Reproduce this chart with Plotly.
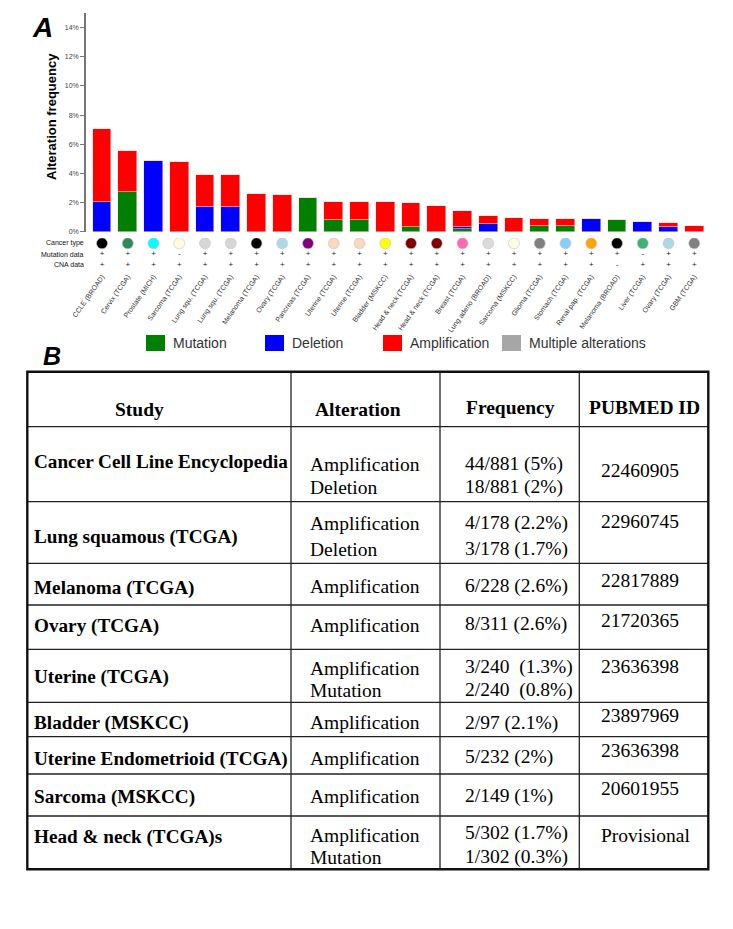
import plotly.graph_objects as go

# ---------------- data ----------------
studies = ["CCLE (BROAD)", "Cervix (TCGA)", "Prostate (MICH)", "Sarcoma (TCGA)", "Lung squ. (TCGA)",
           "Lung squ. (TCGA)", "Melanoma (TCGA)", "Ovary (TCGA)", "Pancreas (TCGA)", "Uterine (TCGA)",
           "Uterine (TCGA)", "Bladder (MSKCC)", "Head & neck (TCGA)", "Head & neck (TCGA)", "Breast (TCGA)",
           "Lung adeno (BROAD)", "Sarcoma (MSKCC)", "Glioma (TCGA)", "Stomach (TCGA)", "Renal pap. (TCGA)",
           "Melanoma (BROAD)", "Liver (TCGA)", "Ovary (TCGA)", "GBM (TCGA)"]
mutation = [0, 2.75, 0, 0, 0, 0, 0, 0, 2.33, 0.82, 0.82, 0, 0.33, 0, 0.16, 0, 0, 0.41, 0.41, 0, 0.80, 0, 0, 0]
deletion = [2.02, 0, 4.85, 0, 1.67, 1.67, 0, 0, 0, 0, 0, 0, 0, 0, 0.18, 0.51, 0, 0, 0, 0.85, 0, 0.67, 0.30, 0]
amplification = [5.01, 2.77, 0, 4.76, 2.22, 2.22, 2.61, 2.52, 0, 1.22, 1.22, 2.04, 1.62, 1.76, 1.08, 0.57,
                 0.94, 0.48, 0.48, 0, 0, 0, 0.30, 0.39]
cancer_colors = ["#000000", "#2e8b57", "#00ffff", "#fffbe0", "#d6d6d6", "#d6d6d6", "#000000", "#add8e6",
                 "#800080", "#f9d9bd", "#f9d9bd", "#ffff00", "#800000", "#800000", "#ff69b4", "#dadada",
                 "#fffbe0", "#808080", "#87cefa", "#ffa500", "#000000", "#3cb371", "#add8e6", "#808080"]
mutation_data = ["+", "+", "+", "-", "+", "+", "+", "+", "+", "+", "+", "+", "+", "+", "+", "+", "+", "+",
                 "+", "+", "+", "-", "+", "+"]
cna_data = ["+"] * 20 + ["-"] + ["+"] * 3
row_labels = ["Cancer type", "Mutation data", "CNA data"]
y_ticks = [0, 2, 4, 6, 8, 10, 12, 14]

legend_names = ["Mutation", "Deletion", "Amplification", "Multiple alterations"]
legend_colors = ["#008000", "#0000ff", "#ff0000", "#a6a6a6"]

# table data
tbl_header = ["Study", "Alteration", "Frequency", "PUBMED ID"]
tbl_study = ["Cancer Cell Line Encyclopedia", "Lung squamous (TCGA)", "Melanoma (TCGA)", "Ovary (TCGA)",
             "Uterine (TCGA)", "Bladder (MSKCC)", "Uterine Endometrioid (TCGA)", "Sarcoma (MSKCC)",
             "Head & neck (TCGA)s"]
tbl_alteration = [["Amplification", "Deletion"], ["Amplification", "Deletion"], ["Amplification"],
                  ["Amplification"], ["Amplification", "Mutation"], ["Amplification"], ["Amplification"],
                  ["Amplification"], ["Amplification", "Mutation"]]
tbl_frequency = [["44/881 (5%)", "18/881 (2%)"], ["4/178 (2.2%)", "3/178 (1.7%)"], ["6/228 (2.6%)"],
                 ["8/311 (2.6%)"], ["3/240  (1.3%)", "2/240  (0.8%)"], ["2/97 (2.1%)"], ["5/232 (2%)"],
                 ["2/149 (1%)"], ["5/302 (1.7%)", "1/302 (0.3%)"]]
tbl_pubmed = ["22460905", "22960745", "22817889", "21720365", "23636398", "23897969", "23636398",
              "20601955", "Provisional"]

# ---------------- layout geometry (pixels) ----------------
W, H = 733, 929
def px(x): return x / W
def py(y): return 1 - y / H

x_left, x_right = 86, 710
step = 25.75
c0 = 102
xr = [(x_left - c0) / step, (x_right - c0) / step]

y_zero, y_top = 231.7, 13.1
row_top, row_bot = 237.9, 270.4

fig = go.Figure()

n = len(studies)
xs = list(range(n))
bar_style = dict(width=0.72, marker_line_width=0.6, marker_line_color="rgba(255,215,215,0.9)")
fig.add_trace(go.Bar(x=xs, y=mutation, marker_color=legend_colors[0], name=legend_names[0], **bar_style))
fig.add_trace(go.Bar(x=xs, y=deletion, marker_color=legend_colors[1], name=legend_names[1], **bar_style))
fig.add_trace(go.Bar(x=xs, y=amplification, marker_color=legend_colors[2], name=legend_names[2], **bar_style))

# rows below the chart
fig.add_trace(go.Scatter(x=xs, y=[0] * n, mode="markers", xaxis="x2", yaxis="y2",
                         marker=dict(size=11, color=cancer_colors, line=dict(width=0.6, color="#c8c8c8"))))
fig.add_trace(go.Scatter(x=xs, y=[1] * n, mode="text", text=mutation_data, xaxis="x2", yaxis="y2",
                         textfont=dict(size=8, color="#222", family="Liberation Sans")))
fig.add_trace(go.Scatter(x=xs, y=[2] * n, mode="text", text=cna_data, xaxis="x2", yaxis="y2",
                         textfont=dict(size=8, color="#222", family="Liberation Sans")))

annotations = []
shapes = []

for i, lab in enumerate(row_labels):
    annotations.append(dict(x=px(86), y=i, xref="paper", yref="y2", text=lab, showarrow=False,
                            xanchor="right", yanchor="middle",
                            font=dict(size=7, color="#111", family="Liberation Sans")))

# panel letters and axis title
annotations.append(dict(x=px(42), y=py(28), xref="paper", yref="paper", text="<b><i>A</i></b>",
                        showarrow=False, xanchor="center", yanchor="middle",
                        font=dict(size=28, color="black", family="Liberation Sans")))
annotations.append(dict(x=px(52), y=py(356), xref="paper", yref="paper", text="<b><i>B</i></b>",
                        showarrow=False, xanchor="center", yanchor="middle",
                        font=dict(size=25, color="black", family="Liberation Sans")))
annotations.append(dict(x=px(51), y=py(117), xref="paper", yref="paper", text="<b>Alteration frequency</b>",
                        textangle=-90, showarrow=False, xanchor="center", yanchor="middle",
                        font=dict(size=13, color="black", family="Liberation Sans")))

# legend
leg_sq_x = [146, 265, 383, 502]
for name, col, sx in zip(legend_names, legend_colors, leg_sq_x):
    shapes.append(dict(type="rect", xref="paper", yref="paper", x0=px(sx), x1=px(sx + 19),
                       y0=py(351), y1=py(335), fillcolor=col, line=dict(width=0)))
    annotations.append(dict(x=px(sx + 25), y=py(343), xref="paper", yref="paper", text=name,
                            showarrow=False, xanchor="left", yanchor="middle",
                            font=dict(size=14, color="#333", family="Liberation Sans")))

# table
col_x = [27.3, 291, 440, 579.3, 708.3]
row_y = [371.7, 426.7, 501.7, 563.3, 605, 649.3, 702.3, 736.7, 774, 816, 869.3]
for yy in row_y[1:-1]:
    shapes.append(dict(type="line", xref="paper", yref="paper", x0=px(col_x[0]), x1=px(col_x[-1]),
                       y0=py(yy), y1=py(yy), line=dict(color="#222", width=1.3)))
for xx in col_x[1:-1]:
    shapes.append(dict(type="line", xref="paper", yref="paper", x0=px(xx), x1=px(xx),
                       y0=py(row_y[0]), y1=py(row_y[-1]), line=dict(color="#222", width=1.3)))
shapes.append(dict(type="rect", xref="paper", yref="paper", x0=px(col_x[0]), x1=px(col_x[-1]),
                   y0=py(row_y[-1]), y1=py(row_y[0]), line=dict(color="#111", width=2.4)))

hdr_x = [139, 357.8, 510, 644.7]
hdr_y = [409, 409, 407, 407]
for t, hx, hy in zip(tbl_header, hdr_x, hdr_y):
    annotations.append(dict(x=px(hx), y=py(hy), xref="paper", yref="paper", text="<b>%s</b>" % t,
                            showarrow=False, xanchor="center", yanchor="middle",
                            font=dict(size=19.5, color="black", family="Liberation Serif")))

study_y = [461.7, 536.7, 588.3, 626, 676.7, 723.3, 759.3, 796.7, 837.3]
alt_y = [[464, 487.7], [523.3, 549.3], [586], [625], [668.3, 690.7], [722.7], [758], [796], [835, 857.3]]
freq_y = [[464.3, 486.7], [522.7, 548.7], [585.7], [624], [666.7, 690], [722.7], [756.7], [796], [833.3, 856.7]]
pub_y = [470, 521.7, 580, 620, 666.7, 715, 750, 788.3, 835]

def txt(s, x, y, bold=False, size=19.5):
    annotations.append(dict(x=px(x), y=py(y), xref="paper", yref="paper",
                            text=("<b>%s</b>" % s) if bold else s, showarrow=False,
                            xanchor="left", yanchor="middle",
                            font=dict(size=size, color="black", family="Liberation Serif")))

for i in range(len(tbl_study)):
    txt(tbl_study[i].replace("&", "&amp;"), 32, study_y[i], bold=True, size=19.2)
    for s, yy in zip(tbl_alteration[i], alt_y[i]):
        txt(s, 308, yy)
    for s, yy in zip(tbl_frequency[i], freq_y[i]):
        txt(s, 462.5, yy)
    txt(tbl_pubmed[i], 599, pub_y[i])

fig.update_layout(
    width=W, height=H, autosize=False,
    margin=dict(l=0, r=0, t=0, b=0, pad=0, autoexpand=False),
    paper_bgcolor="white", plot_bgcolor="white",
    barmode="stack", bargap=0, showlegend=False,
    font=dict(family="Liberation Sans"),
    xaxis=dict(domain=[px(x_left), px(x_right)], range=xr, visible=False, anchor="y"),
    yaxis=dict(domain=[py(y_zero), py(y_top)], range=[0, 15], anchor="x",
               tickvals=y_ticks, ticktext=["%d%%" % v for v in y_ticks],
               ticks="outside", ticklen=4, tickwidth=1, tickcolor="#777",
               showline=True, linecolor="#777", linewidth=1.5, showgrid=False, zeroline=False,
               tickfont=dict(size=7, color="#444", family="Liberation Sans")),
    xaxis2=dict(domain=[px(x_left), px(x_right)], range=xr, anchor="y2",
                tickvals=xs, ticktext=[s.replace("&", "&amp;") for s in studies], tickangle=-55,
                ticks="", showline=False, showgrid=False, zeroline=False,
                tickfont=dict(size=7, color="#333", family="Liberation Sans")),
    yaxis2=dict(domain=[py(row_bot), py(row_top)], range=[2.5, -0.5], anchor="x2", visible=False),
    annotations=annotations, shapes=shapes,
)

fig.write_html("out.html", config={"displayModeBar": False},
               post_script="document.body.style.margin='0px';document.body.style.padding='0px';")
